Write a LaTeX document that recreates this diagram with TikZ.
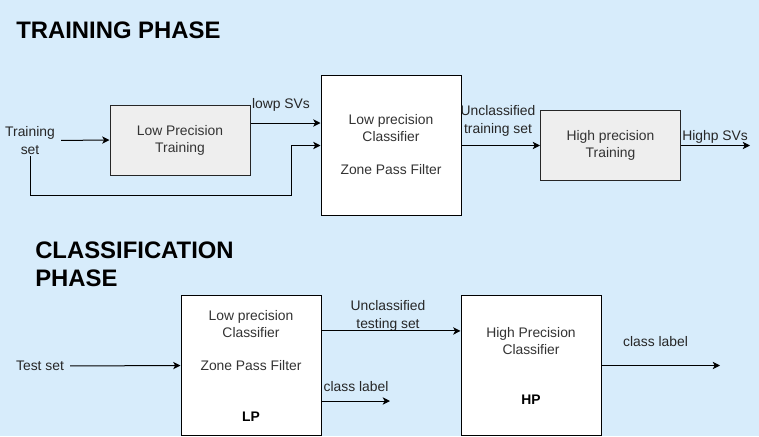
\documentclass[tikz,border=0pt]{standalone}
\usepackage{fontspec}
\setmainfont{Liberation Sans}
\usetikzlibrary{arrows.meta,positioning}
\definecolor{bgblue}{RGB}{215,236,251}
\definecolor{boxgray}{RGB}{238,238,238}
\tikzset{
	block/.style={draw=black!85,fill=boxgray,line width=0.75pt,minimum width=105pt,minimum height=52.5pt,inner sep=0,font=\fontsize{10.4}{12.75}\selectfont,text=black!80,align=center},
	bigblock/.style={draw=black,fill=white,line width=0.75pt,minimum width=105pt,minimum height=104.5pt,inner sep=0},
	boxtext/.style={font=\fontsize{10.4}{12.75}\selectfont,text=black!80,align=center,inner sep=0},
	lbl/.style={font=\fontsize{10.4}{13.5}\selectfont,text=black!85,align=center,inner sep=0},
	phase/.style={font=\fontsize{17.9}{21}\selectfont\bfseries,anchor=west,align=left,inner sep=0},
	diredge/.style={-{Stealth[width=5.5pt,length=5.5pt,inset=1.5pt]},color=black,line width=0.75pt}
}
\begin{document}
\begin{tikzpicture}[x=0.75pt,y=-0.75pt]
				\fill[bgblue] (0,0) rectangle (759,436);
				\useasboundingbox (0,0) rectangle (759,436);
				
				%%%% training phase
				\node[phase] (ttitle) at (16,30) {TRAINING PHASE};
				\node[lbl] (trainset) at (30,140.5) {Training\\set};
				\node[block] (lpt) at (180,140) {Low Precision\\Training};
				\node[bigblock] (lpc) at (391,145.5) {};
				\node[boxtext] (lpctext) at (391,128.5) {Low precision\\Classifier};
				\node[boxtext] (lpcfilter) at (391,170) {Zone Pass Filter};
				\node[block] (hpt) at (610.5,145.5) {High precision\\Training};
				\coordinate (bend) at (291,195);
				\coordinate (hout) at (750,145.5);
				
				\node[lbl] (lowp) at (281,105) {lowp SVs};
				\node[lbl] (untrain) at (498,121) {Unclassified\\training set};
				\node[lbl] (highp) at (715,137) {Highp SVs};
				
				\draw[diredge,shorten <=4.5pt] (trainset.east) -- (lpt.west);
				\draw[diredge] ([yshift=12.75pt]lpt.east) -- ([yshift=12.75pt]lpt.east -| lpc.west);
				\draw[diredge,shorten <=1pt] (trainset.south) |- (bend) |- (lpc.west);
				\draw[diredge] (lpc.east) -- (hpt.west);
				\draw[diredge] (hpt.east) -- (hout);
				
				%%%% classification phase
				\node[phase] (ctitle) at (35,264) {CLASSIFICATION\\PHASE};
				\node[lbl] (testset) at (40,366) {Test set};
				\node[bigblock] (lp) at (251,365.5) {};
				\node[boxtext] (lptext) at (251,324.5) {Low precision\\Classifier};
				\node[boxtext] (lpfilter) at (251,366) {Zone Pass Filter};
				\node[boxtext,font=\fontsize{10.4}{12.75}\selectfont\bfseries,text=black] (lpname) at (251,417) {LP};
				\node[bigblock] (hp) at (531,365.5) {};
				\node[boxtext] (hptext) at (531,341) {High Precision\\Classifier};
				\node[boxtext,font=\fontsize{10.4}{12.75}\selectfont\bfseries,text=black] (hpname) at (531,400) {HP};
				\coordinate (lpout) at (390,401);
				\coordinate (hpout) at (720,365.5);
				
				\node[lbl] (untest) at (388,315.5) {Unclassified\\testing set};
				\node[lbl] (lplabel) at (356,387) {class label};
				\node[lbl] (hplabel) at (655.5,342) {class label};
				
				\draw[diredge,shorten <=4.5pt] (testset.east) -- (lp.west);
				\draw[diredge] ([yshift=25.9pt]lp.east) -- ([yshift=25.9pt]lp.east -| hp.west);
				\draw[diredge] (lp.east |- lpout) -- (lpout);
				\draw[diredge] (hp.east) -- (hpout);
\end{tikzpicture}
\end{document}
